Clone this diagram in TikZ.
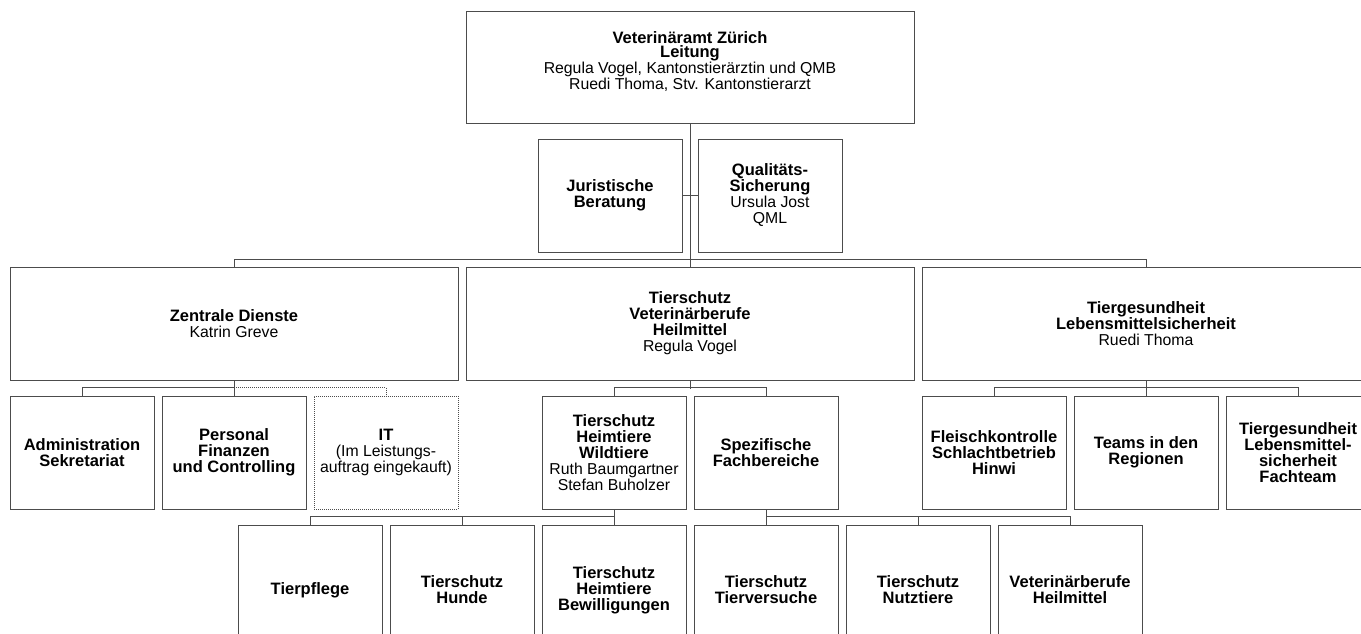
\documentclass[tikz,border=0pt]{standalone}
\usepackage{fontspec}
\setsansfont{Liberation Sans}
\tikzset{every picture/.style={/utils/exec={\sffamily}}}
\usetikzlibrary{calc}
\usetikzlibrary{positioning}
\tikzset{
  unit/.style={draw=black!70, line width=1pt, rectangle, align=center, inner sep=2pt,
    font=\fontsize{15.8}{16}\selectfont},
  widebox/.style={unit, minimum width=448pt, minimum height=112pt},
  smallbox/.style={unit, minimum width=144pt, minimum height=113pt},
  lowbox/.style={unit, minimum width=144pt, minimum height=130pt},
  link/.style={draw=black!70, line width=1pt},
}
\newcommand{\hd}[1]{{\fontsize{16.5}{16}\selectfont\bfseries #1}}

\begin{document}
\begin{tikzpicture}[x=1pt, y=-1pt]
  \useasboundingbox (0,0) rectangle (1361,633);
  \clip (0,0) rectangle (1361,633);

  % Leitung
  \node [widebox] (top) at (690,67) {};
  \node [font=\fontsize{15.8}{14}\selectfont, align=center] (toptext) at (690,61.5)
    {\hd{Veterinäramt Zürich}\\\hd{Leitung}\\Regula Vogel, Kantonstierärztin und QMB\\Ruedi Thoma, Stv. Kantonstierarzt};

  \node [smallbox] (jur) at (610,195.5) {\hd{Juristische}\\\hd{Beratung}};
  \node [smallbox] (qual) at (770,195.5) {\hd{Qualitäts-}\\\hd{Sicherung}\\Ursula Jost\\QML};

  % Abteilungen
  \node [widebox, minimum height=113pt] (zd) at (234,323.5) {\hd{Zentrale Dienste}\\Katrin Greve};
  \node [widebox, minimum height=113pt] (ts) at (690,323.5) {\hd{Tierschutz}\\\hd{Veterinärberufe}\\\hd{Heilmittel}\\Regula Vogel};
  \node [widebox, minimum height=113pt] (tg) at (1146,323.5) {\hd{Tiergesundheit}\\\hd{Lebensmittelsicherheit}\\Ruedi Thoma};

  \node [smallbox] (adm) at (82,452.5) {\hd{Administration}\\\hd{Sekretariat}};
  \node [smallbox] (pfc) at (234,452.5) {\hd{Personal}\\\hd{Finanzen}\\\hd{und Controlling}};
  \node [smallbox, densely dotted, line width=0.8pt] (it) at (386,452.5) {\hd{IT}\\(Im Leistungs-\\auftrag eingekauft)};
  \node [smallbox] (tsh) at (614,452.5) {\hd{Tierschutz}\\\hd{Heimtiere}\\\hd{Wildtiere}\\Ruth Baumgartner\\Stefan Buholzer};
  \node [smallbox] (spf) at (766,452.5) {\hd{Spezifische}\\\hd{Fachbereiche}};
  \node [smallbox] (fk) at (994,452.5) {\hd{Fleischkontrolle}\\\hd{Schlachtbetrieb}\\\hd{Hinwi}};
  \node [smallbox] (tr) at (1146,452.5) {\hd{Teams in den}\\\hd{Regionen}};
  \node [smallbox] (tgf) at (1298,452.5) {\hd{Tiergesundheit}\\\hd{Lebensmittel-}\\\hd{sicherheit}\\\hd{Fachteam}};

  \node [lowbox] (tp) at (310,590) {\hd{Tierpflege}};
  \node [lowbox] (hu) at (462,590) {\hd{Tierschutz}\\\hd{Hunde}};
  \node [lowbox] (bew) at (614,590) {\hd{Tierschutz}\\\hd{Heimtiere}\\\hd{Bewilligungen}};
  \node [lowbox] (tv) at (766,590) {\hd{Tierschutz}\\\hd{Tierversuche}};
  \node [lowbox] (nt) at (918,590) {\hd{Tierschutz}\\\hd{Nutztiere}};
  \node [lowbox] (vh) at (1070,590) {\hd{Veterinärberufe}\\\hd{Heilmittel}};

  \draw [link] (top) -- (ts);
  \draw [link] (jur) -- (qual);
  \draw [link] (zd.north) -- ++(0,-7) -| (tg.north);

  \draw [link] (zd) -- (pfc);
  \draw [link] (adm.north) -- ++(0,-8) -| (pfc.north);
  \draw [link, densely dotted, line width=0.8pt] (pfc.north) ++(0,-8) -| (it.north);

  \draw [link] (ts.south) -- ++(0,8);
  \draw [link] (tsh.north) -- ++(0,-8) -| (spf.north);

  \draw [link] (tg) -- (tr);
  \draw [link] (fk.north) -- ++(0,-8) -| (tgf.north);

  \draw [link] (tsh) -- (bew);
  \draw [link] (tp.north) -- ++(0,-8) -| (bew.north);
  \draw [link] (hu.north) -- ++(0,-8);

  \draw [link] (spf) -- (tv);
  \draw [link] (tv.north) -- ++(0,-8) -| (vh.north);
  \draw [link] (nt.north) -- ++(0,-8);
\end{tikzpicture}
\end{document}
